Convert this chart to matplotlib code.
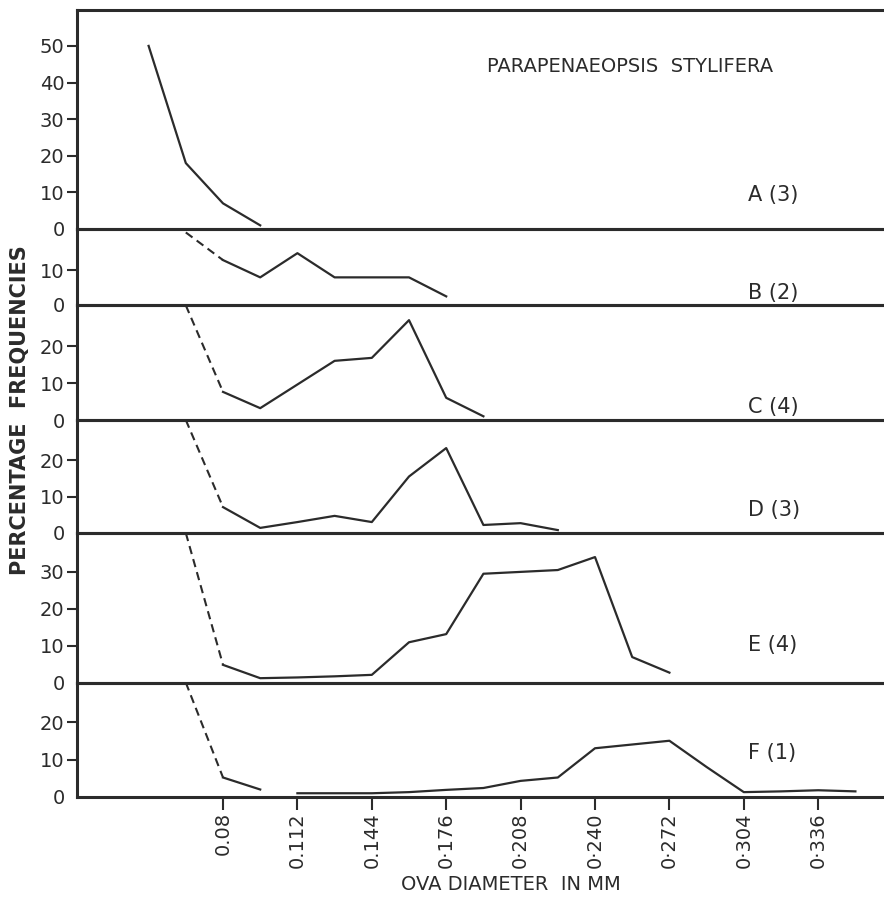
import numpy as np
import matplotlib.pyplot as plt
import matplotlib.transforms as mtransforms

# ova diameter classes (mm), 0.016 mm steps
step = 0.016

# percentage frequencies per stage; first value of B-F is the off-scale
# starting point of the dashed segment
a_start, a_vals = 0.048, [50, 18, 7, 1]
b_start, b_vals = 0.064, [21, 13, 8, 15, 8, 8, 8, 2.5]
c_start, c_vals = 0.064, [31, 7.6, 3.2, 9.6, 16, 16.8, 27, 6, 1]
d_start, d_vals = 0.064, [31, 7.1, 1.4, 3, 4.7, 3, 15.5, 23.3, 2.2, 2.7, 0.8]
e_start, e_vals = 0.064, [40.5, 4.9, 1.3, 1.5, 1.8, 2.2, 11, 13.2, 29.5, 30, 30.5, 34, 7, 2.8]
f_start, f_vals = 0.064, [30.5, 5.2, 2, 1, 1, 1, 1.3, 1.9, 2.4, 4.3, 5.2, 13, 14, 15, 8, 1.3, 1.5, 1.8, 1.5]
f_break = 3  # F line is interrupted between 0.096 and 0.112

panel_names = ['A (3)', 'B (2)', 'C (4)', 'D (3)', 'E (4)', 'F (1)']
y_ticks = [[0, 10, 20, 30, 40, 50], [0, 10], [0, 10, 20], [0, 10, 20], [0, 10, 20, 30], [0, 10, 20]]
y_tops = [59.8, 22.0, 31.1, 31.0, 40.5, 30.4]
name_y = [9.3, 3.5, 3.5, 6.3, 10.3, 11.7]

x_ticks = [0.08, 0.112, 0.144, 0.176, 0.208, 0.240, 0.272, 0.304, 0.336]
x_labels = ['0.08', '0.112', '0.144', '0·176', '0·208', '0·240', '0·272', '0·304', '0·336']

ink = '#2b2b2b'
plt.rcParams['font.family'] = ['DejaVu Sans']

fig = plt.figure(figsize=(8.84, 8.98), dpi=100)
gs = fig.add_gridspec(6, 1, height_ratios=[219, 76, 115, 113, 150, 114], hspace=0,
                      left=77 / 884, right=1.0, top=1 - 10 / 898, bottom=1 - 797 / 898)
axes = [fig.add_subplot(gs[i]) for i in range(6)]
for ax in axes[1:]:
    ax.sharex(axes[0])

series = [(a_start, a_vals), (b_start, b_vals), (c_start, c_vals),
          (d_start, d_vals), (e_start, e_vals), (f_start, f_vals)]

for i, (ax, (x0, vals)) in enumerate(zip(axes, series)):
    ax.patch.set_visible(False)
    x = x0 + step * np.arange(len(vals))
    y = np.array(vals, dtype=float)
    if i == 0:
        ax.plot(x, y, color=ink, lw=1.6)
    else:
        # dashed run-in from off-scale value, then solid
        ax.plot(x[:2], y[:2], color=ink, lw=1.5, ls=(0, (4, 2.5)))
        if i == 5:
            ax.plot(x[1:f_break], y[1:f_break], color=ink, lw=1.6)
            ax.plot(x[f_break:], y[f_break:], color=ink, lw=1.6)
        else:
            ax.plot(x[1:], y[1:], color=ink, lw=1.6)

    ax.set_xlim(0.0172, 0.3643)
    ax.set_ylim(0, y_tops[i])
    ax.set_yticks(y_ticks[i])
    ax.set_yticklabels([str(t) for t in y_ticks[i]])
    ax.tick_params(axis='y', direction='out', length=7, width=1.5, colors=ink,
                   labelsize=14, pad=2)
    ax.yaxis.get_major_ticks()[0].tick1line.set_visible(False)

    ax.spines['right'].set_visible(False)
    for side in ['left', 'bottom', 'top']:
        ax.spines[side].set_linewidth(2.2)
        ax.spines[side].set_color(ink)

    trans = mtransforms.blended_transform_factory(ax.transAxes, ax.transData)
    ax.text(0.832, name_y[i], panel_names[i], transform=trans, fontsize=15,
            color=ink, ha='left', va='center')

    if i < 5:
        ax.tick_params(axis='x', bottom=False, labelbottom=False)

bottom = axes[-1]
bottom.set_xticks(x_ticks)
bottom.set_xticklabels(x_labels, rotation=90)
bottom.tick_params(axis='x', direction='out', length=9, width=1.5, colors=ink,
                   labelsize=14, pad=2)

fig.text(630 / 884, 1 - 66 / 898, 'PARAPENAEOPSIS  STYLIFERA', fontsize=14,
         color=ink, ha='center', va='center')

fig.text(20 / 884, 1 - 410 / 898, 'PERCENTAGE  FREQUENCIES', rotation=90, fontsize=15,
         fontweight='bold', color=ink, ha='center', va='center')
fig.text(511 / 884, 1 - 885 / 898, 'OVA DIAMETER  IN MM', fontsize=14, color=ink,
         ha='center', va='center')

fig.savefig('out.png', dpi=100, facecolor='white')
